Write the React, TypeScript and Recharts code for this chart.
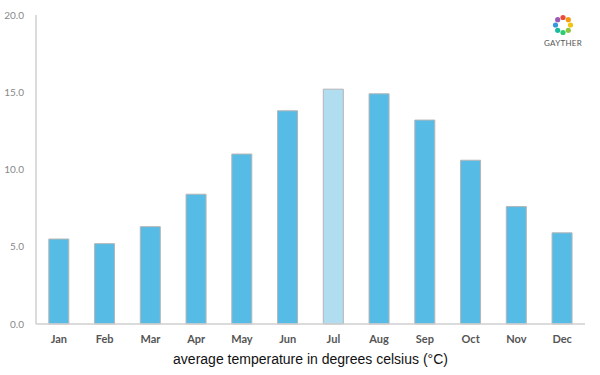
import React from 'react';
import { BarChart, Bar, XAxis, YAxis, Cell, Label } from 'recharts';

const months = ['Jan', 'Feb', 'Mar', 'Apr', 'May', 'Jun', 'Jul', 'Aug', 'Sep', 'Oct', 'Nov', 'Dec'];
const avgTemps = [5.5, 5.2, 6.3, 8.4, 11.0, 13.8, 15.2, 14.9, 13.2, 10.6, 7.6, 5.9];
const yTicks = [0, 5, 10, 15, 20];
const highlightMonth = 'Jul';

const data = months.map((m, i) => ({ month: m, temp: avgTemps[i] }));

const FONT = '"Lato", "DejaVu Sans", sans-serif';

// small ring of colored dots standing in for the logo
const Logo = () => {
  const colors = ['#e94b3c', '#f39c12', '#f1c40f', '#8cc63f', '#2ecc71', '#1abc9c', '#3498db', '#9b59b6'];
  return (
    <div style={{ position: 'absolute', left: 538, top: 14, width: 50, textAlign: 'center' }}>
      <svg width={22} height={22} viewBox="-11 -11 22 22">
        {colors.map((c, i) => {
          const a = (i / colors.length) * Math.PI * 2 - Math.PI / 2;
          return <circle key={i} cx={Math.cos(a) * 7.5} cy={Math.sin(a) * 7.5} r={2.6} fill={c} />;
        })}
      </svg>
      <div style={{ fontFamily: FONT, fontSize: 8, color: '#555', letterSpacing: 0.3, marginTop: -2 }}>GAYTHER</div>
    </div>
  );
};

export default function App() {
  return (
    <div style={{ position: 'absolute', left: 0, top: 0, width: 600, height: 375, background: '#fff' }}>
      <BarChart width={600} height={375} data={data} margin={{ top: 15, right: 15, bottom: 25, left: 0 }} barCategoryGap="28%">
        <XAxis
          dataKey="month"
          axisLine={{ stroke: '#cfcfcf', strokeWidth: 1.5 }}
          tickLine={false}
          tick={{ fill: '#555', fontSize: 11, fontWeight: 700, fontFamily: FONT }}
          tickMargin={5}
          height={26}
        >
          <Label value="average temperature in degrees celsius (°C)" position="bottom" offset={4}
            style={{ fill: '#111', fontSize: 14, fontFamily: '"Liberation Sans", Arial, sans-serif' }} />
        </XAxis>
        <YAxis
          domain={[0, 20]}
          ticks={yTicks}
          width={36}
          axisLine={{ stroke: '#cfcfcf', strokeWidth: 1.5 }}
          tickLine={false}
          tickFormatter={(v: number) => v.toFixed(1)}
          tick={{ fill: '#888', fontSize: 10, fontFamily: FONT }}
          tickMargin={6}
        />
        <Bar dataKey="temp" stroke="#b5b5b5" strokeWidth={1} isAnimationActive={false}>
          {data.map((d) => (
            <Cell key={d.month} fill={d.month === highlightMonth ? '#b0ddf0' : '#56bce6'} />
          ))}
        </Bar>
      </BarChart>
      <Logo />
    </div>
  );
}
